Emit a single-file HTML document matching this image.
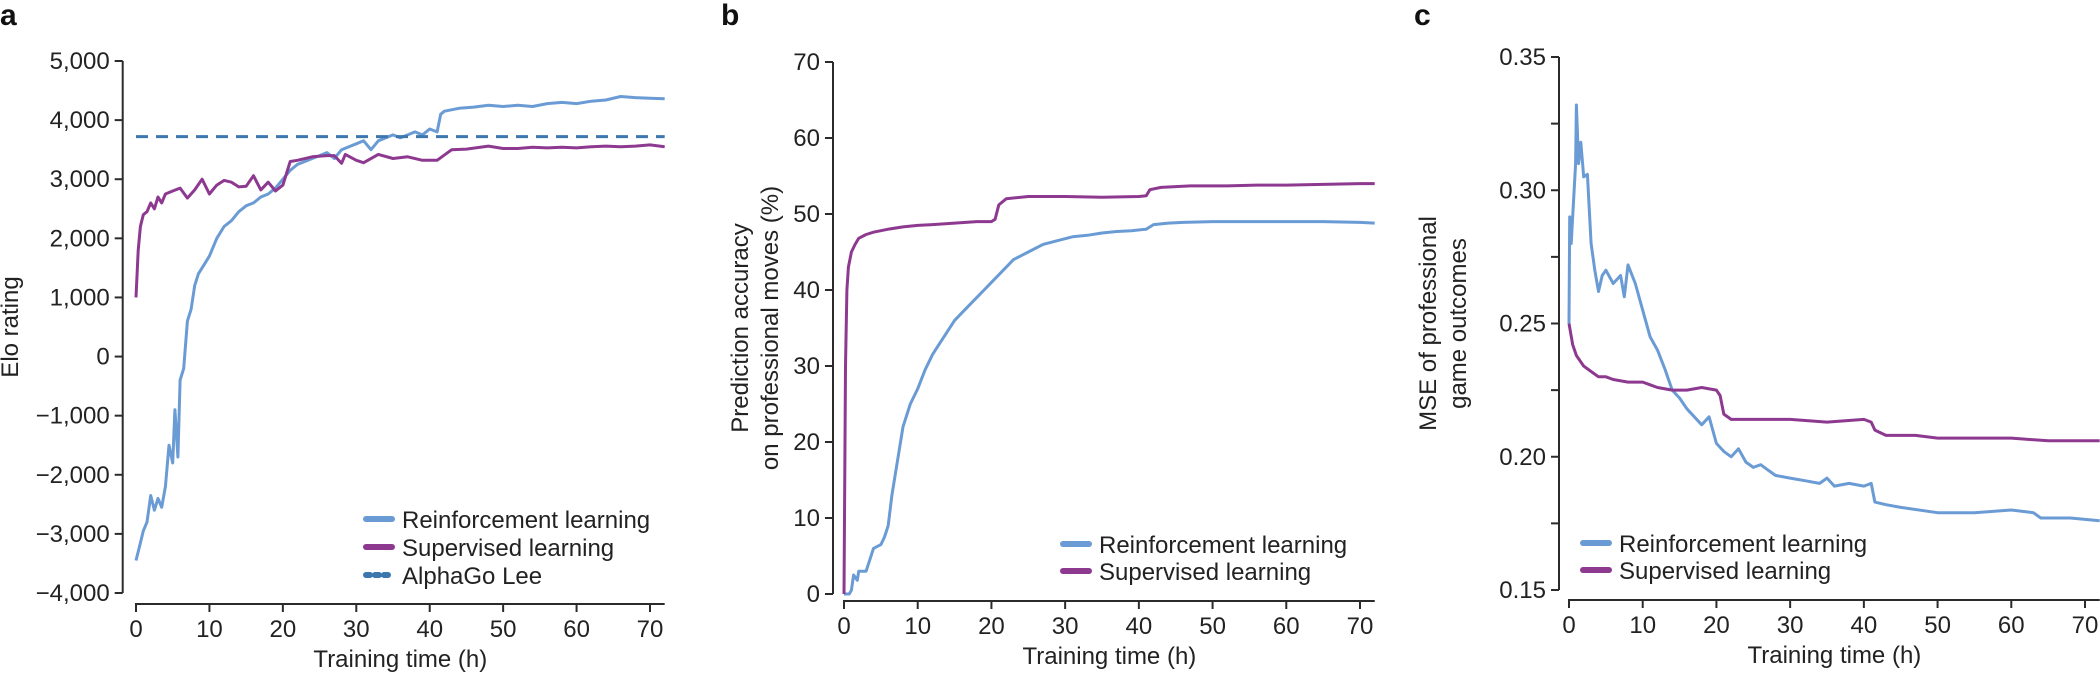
<!DOCTYPE html>
<html><head><meta charset="utf-8"><style>
html,body{margin:0;padding:0;background:#fff;}
svg{display:block;font-family:"Liberation Sans",Arial,sans-serif;}
</style></head><body>
<svg id="fig" width="2100" height="673" viewBox="0 0 2100 673"></svg>
<script>
// ---- Panel a data ----
const aRLx=[0,0.5,1,1.5,2,2.5,3,3.5,4,4.5,5,5.3,5.7,6,6.5,7,7.5,8,8.5,9,10,11,12,13,14,15,16,17,18,19,20,21,22,23,24,25,26,27,28,29,30,31,32,33,34,35,36,37,38,39,40,41,41.5,42,44,46,48,50,52,54,56,58,60,62,64,66,68,70,72];
const aRLy=[-3450,-3200,-2950,-2800,-2350,-2600,-2400,-2550,-2200,-1500,-1800,-900,-1700,-400,-200,600,800,1200,1400,1500,1700,2000,2200,2300,2450,2550,2600,2700,2750,2850,3000,3150,3250,3300,3350,3400,3450,3350,3500,3550,3600,3650,3500,3650,3700,3750,3700,3750,3800,3750,3850,3800,4100,4150,4200,4220,4250,4230,4250,4230,4280,4300,4280,4320,4340,4400,4380,4370,4360];
const aSLx=[0,0.3,0.6,1,1.5,2,2.5,3,3.5,4,5,6,7,8,9,10,11,12,13,14,15,16,17,18,19,20,21,22,24,26,27,28,28.5,30,31,33,35,37,39,41,43,45,48,50,52,54,56,58,60,62,64,66,68,70,72];
const aSLy=[1000,1800,2200,2400,2450,2600,2500,2700,2600,2750,2800,2850,2680,2820,3000,2750,2900,2980,2950,2870,2880,3060,2820,2950,2800,2900,3300,3320,3380,3400,3400,3270,3420,3320,3280,3420,3350,3380,3320,3320,3500,3510,3560,3520,3520,3540,3530,3540,3530,3550,3560,3550,3560,3580,3550];
const aLee=3720;
const aTicks=[5000,4000,3000,2000,1000,0,-1000,-2000,-3000,-4000];
const aTickLabels=["5,000","4,000","3,000","2,000","1,000","0","\u22121,000","\u22122,000","\u22123,000","\u22124,000"];
// ---- Panel b data ----
const bRLx=[0,0.7,1,1.3,1.8,2,3,3.5,4,5,5.5,6,6.5,7,7.5,8,9,10,11,12,13,14,15,16,17,18,19,20,21,22,23,24,25,27,29,31,33,35,37,39,41,42,44,46,50,55,60,65,70,72];
const bRLy=[0,0,0.5,2.5,1.8,3,3,4.5,6,6.5,7.5,9,13,16,19,22,25,27,29.5,31.5,33,34.5,36,37,38,39,40,41,42,43,44,44.5,45,46,46.5,47,47.2,47.5,47.7,47.8,48,48.6,48.8,48.9,49,49,49,49,48.9,48.8];
const bSLx=[0,0.2,0.4,0.6,1,1.5,2,3,4,6,8,10,12,15,18,20,20.5,21,22,25,30,35,40,41,41.5,43,47,52,56,60,65,70,72];
const bSLy=[0,30,40,43,45,46,46.8,47.3,47.6,48,48.3,48.5,48.6,48.8,49,49,49.3,51.2,52,52.3,52.3,52.2,52.3,52.4,53.2,53.5,53.7,53.7,53.8,53.8,53.9,54,54];
const bTicks=[70,60,50,40,30,20,10,0];
// ---- Panel c data ----
const cRLx=[0,0.1,0.3,0.6,0.9,1,1.3,1.6,2,2.5,3,3.5,4,4.5,5,6,7,7.5,8,9,10,11,12,13,14,15,16,17,18,19,20,21,22,23,24,25,26,27,28,30,32,34,35,36,38,40,41,41.5,43,45,50,55,60,63,64,68,72];
const cRLy=[0.25,0.29,0.28,0.295,0.31,0.332,0.31,0.318,0.305,0.306,0.28,0.27,0.262,0.268,0.27,0.265,0.268,0.26,0.272,0.265,0.255,0.245,0.24,0.233,0.225,0.222,0.218,0.215,0.212,0.215,0.205,0.202,0.2,0.203,0.198,0.196,0.197,0.195,0.193,0.192,0.191,0.19,0.192,0.189,0.19,0.189,0.19,0.183,0.182,0.181,0.179,0.179,0.18,0.179,0.177,0.177,0.176];
const cSLx=[0,0.5,1,2,3,4,5,6,8,10,12,14,16,18,20,20.5,21,22,25,30,35,40,41,41.5,43,47,50,55,60,65,72];
const cSLy=[0.25,0.242,0.238,0.234,0.232,0.23,0.23,0.229,0.228,0.228,0.226,0.225,0.225,0.226,0.225,0.223,0.216,0.214,0.214,0.214,0.213,0.214,0.213,0.21,0.208,0.208,0.207,0.207,0.207,0.206,0.206];
const cTicks=[0.35,0.325,0.30,0.275,0.25,0.225,0.20,0.175,0.15];
const cTickLabels=["0.35","","0.30","","0.25","","0.20","","0.15"];
const xTicks=[0,10,20,30,40,50,60,70];

const NS="http://www.w3.org/2000/svg";
const svg=document.getElementById('fig');
const BLUE="#6a9bd4",PURP="#8d3990",DASH="#3c78ae",AX="#2b2b2b",TXT="#222";
function mk(tag,attrs,parent){const e=document.createElementNS(NS,tag);for(const k in attrs)e.setAttribute(k,attrs[k]);(parent||svg).appendChild(e);return e;}
function txt(s,attrs,parent){const t=mk('text',attrs,parent);t.textContent=s;return t;}

function panel(cfg){
  const g=mk('g',{});
  
  
  const X=v=>cfg.x0+(v-0)*(cfg.x70-cfg.x0)/70;
  const Y=v=>cfg.yTop+(cfg.vTop-v)*(cfg.yBot-cfg.yTop)/(cfg.vTop-cfg.vBot);
  const L=txt(cfg.letter,{x:cfg.letterX,y:25,'font-size':30,'font-weight':'bold',fill:'#111'},g);
  
  
  const ya=mk('line',{x1:cfg.yAxisX,y1:Y(cfg.vTop),x2:cfg.yAxisX,y2:Y(cfg.vBot),stroke:AX,'stroke-width':2},g);
  
  
  cfg.yTicks.forEach((v,i)=>{
    mk('line',{x1:cfg.yAxisX-8,y1:Y(v),x2:cfg.yAxisX,y2:Y(v),stroke:AX,'stroke-width':2},g);
    const lab=cfg.yLabels?cfg.yLabels[i]:String(v);
    if(lab){const t=txt(lab,{x:cfg.yAxisX-13,y:Y(v)+8,'font-size':24,'text-anchor':'end',fill:TXT},g);
      
      }
  });
  const xa=mk('line',{x1:X(0)-1,y1:cfg.xAxisY,x2:X(72),y2:cfg.xAxisY,stroke:AX,'stroke-width':2},g);
  
  
  xTicks.forEach(v=>{
    mk('line',{x1:X(v),y1:cfg.xAxisY,x2:X(v),y2:cfg.xAxisY+8,stroke:AX,'stroke-width':2},g);
    const t=txt(String(v),{x:X(v),y:cfg.xAxisY+33,'font-size':24,'text-anchor':'middle',fill:TXT},g);
    
    
  });
  const xt=txt('Training time (h)',{x:X(36),y:cfg.xAxisY+63,'font-size':24,'text-anchor':'middle',fill:TXT},g);
  
  
  const cy=(Y(cfg.vTop)+Y(cfg.vBot))/2;
  cfg.yTitle.forEach((s,i)=>{
    const x=cfg.yTitleX[i];
    const t=txt(s,{x:x,y:cy,'font-size':24,'text-anchor':'middle',fill:TXT,transform:`rotate(-90 ${x} ${cy})`},g);
    
    
  });
  cfg.series.forEach(s=>{
    let d=s.xs.map((x,i)=>(i?'L':'M')+X(x).toFixed(1)+','+Y(s.ys[i]).toFixed(1)).join('');
    const p=mk('path',{d:d,fill:'none',stroke:s.color,'stroke-width':3,'stroke-linejoin':'round'},g);
    
    
  });
  if(cfg.hline!==undefined){
    const h=mk('line',{x1:X(0),y1:Y(cfg.hline),x2:X(72),y2:Y(cfg.hline),stroke:DASH,'stroke-width':3,'stroke-dasharray':'12,8'},g);
    
    
  }
  cfg.legend.forEach((e,i)=>{
    const y=cfg.legY+i*cfg.legGap;
    const ln=mk('line',{x1:cfg.legX,y1:y,x2:cfg.legX+26,y2:y,stroke:e.c,'stroke-width':6,'stroke-linecap':'round','stroke-dasharray':e.dash?'4,5':'none'},g);
    
    
    const t=txt(e.t,{x:cfg.legX+36,y:y+9,'font-size':24,fill:TXT},g);
    
    
  });
}

panel({name:'panel-a-elo',letter:'a',letterX:0,yAxisX:122.7,x0:136,x70:650,yTop:61,yBot:593,vTop:5000,vBot:-4000,xAxisY:604,
  yTicks:aTicks,yLabels:aTickLabels,yTitle:['Elo rating'],yTitleX:[18],
  series:[{xs:aRLx,ys:aRLy,color:BLUE,name:'rl-elo-line'},{xs:aSLx,ys:aSLy,color:PURP,name:'sl-elo-line'}],
  hline:aLee,legX:366,legY:519,legGap:28,
  legend:[{t:'Reinforcement learning',c:BLUE},{t:'Supervised learning',c:PURP},{t:'AlphaGo Lee',c:DASH,dash:true}]});

panel({name:'panel-b-accuracy',letter:'b',letterX:721,yAxisX:833,x0:844,x70:1360,yTop:62,yBot:594,vTop:70,vBot:0,xAxisY:601,
  yTicks:bTicks,yTitle:['Prediction accuracy','on professional moves (%)'],yTitleX:[748,778],
  series:[{xs:bRLx,ys:bRLy,color:BLUE,name:'rl-accuracy-line'},{xs:bSLx,ys:bSLy,color:PURP,name:'sl-accuracy-line'}],
  legX:1063,legY:544,legGap:27,
  legend:[{t:'Reinforcement learning',c:BLUE},{t:'Supervised learning',c:PURP}]});

panel({name:'panel-c-mse',letter:'c',letterX:1414,yAxisX:1559,x0:1569,x70:2085,yTop:57,yBot:590,vTop:0.35,vBot:0.15,xAxisY:600,
  yTicks:cTicks,yLabels:cTickLabels,yTitle:['MSE of professional','game outcomes'],yTitleX:[1436,1466],
  series:[{xs:cRLx,ys:cRLy,color:BLUE,name:'rl-mse-line'},{xs:cSLx,ys:cSLy,color:PURP,name:'sl-mse-line'}],
  legX:1583,legY:543,legGap:27,
  legend:[{t:'Reinforcement learning',c:BLUE},{t:'Supervised learning',c:PURP}]});
</script>
</body></html>
